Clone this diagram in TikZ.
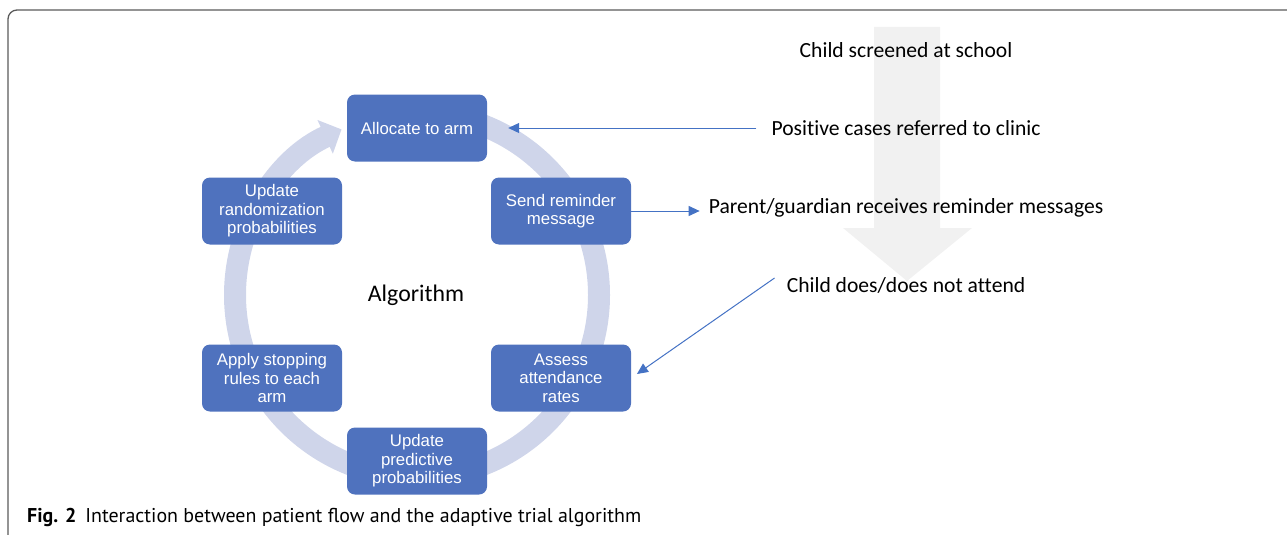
\documentclass[tikz,border=0pt]{standalone}
\usepackage{fontspec}
\setmainfont{Liberation Sans}
\newfontfamily\arialf{Liberation Sans}
\newfontfamily\calib[Ligatures={NoCommon}]{Carlito}
\newfontfamily\capf{PT Sans}
\usetikzlibrary{arrows.meta}
\definecolor{boxblue}{RGB}{79,114,190}
\definecolor{ringc}{RGB}{207,213,234}
\definecolor{linkblue}{RGB}{68,114,196}
\definecolor{flowgray}{RGB}{241,241,241}
\definecolor{framec}{RGB}{90,90,90}
\begin{document}
\begin{tikzpicture}[x=1pt,y=-1pt,
  stepbox/.style={draw=none, fill=boxblue, rounded corners=8pt, minimum width=140pt, minimum height=67pt, inner sep=0pt, align=center, text=white, font=\arialf\fontsize{16.8}{18.5}\selectfont},
  flowtext/.style={inner sep=0pt, font=\calib\fontsize{21.6}{24}\selectfont},
  link/.style={draw=linkblue, line width=1pt, -{Triangle[length=11pt,width=10pt]}},
  ring/.style={draw=ringc, line width=22pt, -{Triangle[width=36pt,length=18pt]}}
]
\useasboundingbox (0,0) rectangle (1287,535);
\clip (0,0) rectangle (1287,535);
\draw[framec, line width=1.3pt, rounded corners=9pt] (1300,10) -- (8,10) -- (8,560);
% gray flow arrow
\fill[flowgray] (874,27) -- (940,27) -- (940,228) -- (972,228) -- (907,281) -- (843,228) -- (874,228) -- cycle;
% ring
\draw[ring] (417,295) ++(-90:182) arc[start angle=-90, end angle=245.5, radius=182];
% boxes
\node[stepbox] (alloc) at (417,128) {Allocate to arm};
\node[stepbox] (send) at (561,211) {Send reminder\\message};
\node[stepbox] (rand) at (272,211) {Update\\randomization\\probabilities};
\node[stepbox] (apply) at (272,378) {Apply stopping\\rules to each\\arm};
\node[stepbox] (assess) at (561,378) {Assess\\attendance\\rates};
\node[stepbox] (pred) at (417,461) {Update\\predictive\\probabilities};
\node[flowtext, font=\calib\fontsize{23.8}{26}\selectfont] (algo) at (416,295) {Algorithm};
% flow texts
\node[flowtext] (screen) at (906,50) {Child screened at school};
\node[flowtext] (pos) at (906,128) {Positive cases referred to clinic};
\node[flowtext] (parent) at (906,208) {Parent/guardian receives reminder messages};
\node[flowtext] (attend) at (906,285) {Child does/does not attend};
% connectors
\draw[link, shorten <=15pt, shorten >=21pt] (pos.west) -- (alloc.east);
\draw[link, shorten >=9pt] (send.east) -- (send.east -| parent.west);
\coordinate (a3) at ([xshift=-12pt, yshift=7pt]attend.west);
\draw[link, shorten >=7pt] (a3) -- (assess.east);
% caption
\node[anchor=west, inner sep=0pt, font=\capf\fontsize{19.95}{22}\selectfont] (cap) at (27,517) {\textbf{Fig. 2}\hspace{0.45em}Interaction between patient flow and the adaptive trial algorithm};
\end{tikzpicture}
\end{document}
